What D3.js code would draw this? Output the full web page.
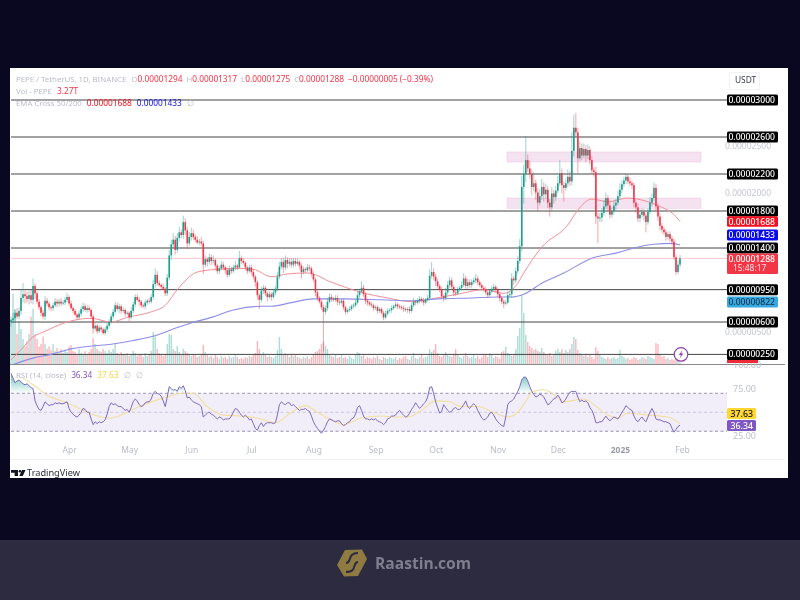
<!DOCTYPE html>
<html>
<head>
<meta charset="utf-8">
<script src="https://cdnjs.cloudflare.com/ajax/libs/d3/7.8.5/d3.min.js"></script>
<style>
  html, body { margin: 0; padding: 0; background: #0a0720; overflow: hidden; }
  svg { display: block; filter: blur(0.55px); font-family: "Noto Sans", sans-serif; }
  .axis path, .axis line { display: none; }
</style>
</head>
<body>
<script>
// prices are in units of 0.000001 USDT, one entry per daily candle
var firstDay = new Date( 2024, 2, 3 );
var closes = [
  6.2,6.4,7.0,6.6,7.2,8.6,9.0,8.8,8.5,8.9,
  8.4,9.9,9.1,8.2,7.6,7.0,6.6,8.3,8.0,7.6,
  7.5,7.8,8.2,8.0,8.2,8.0,8.1,8.4,8.7,8.0,
  7.5,7.2,6.8,6.5,6.9,7.4,7.7,7.3,7.5,7.3,
  6.6,5.3,5.6,5.0,5.4,5.2,4.8,5.2,5.6,6.0,
  6.6,7.1,7.8,7.4,7.7,7.2,7.3,6.9,7.0,6.5,
  7.2,7.9,8.7,8.4,8.2,7.8,7.7,8.1,8.3,8.2,
  8.7,10.1,11.1,10.2,10.0,9.8,9.6,9.1,10.8,13.2,
  14.4,14.9,13.8,15.1,15.7,15.4,16.8,15.9,14.5,15.2,
  15.6,15.2,14.9,14.6,14.7,14.5,12.2,12.8,12.5,13.0,
  12.6,12.7,12.1,11.5,11.8,12.2,11.9,11.6,11.1,11.7,
  11.5,11.9,12.1,11.9,12.9,12.6,12.4,11.9,11.5,11.9,
  11.4,10.9,10.3,8.9,8.4,9.4,9.7,9.1,8.7,9.0,
  8.7,9.2,9.6,10.9,12.0,12.5,11.9,12.7,12.3,12.5,
  12.2,12.6,12.3,12.5,12.1,11.4,11.7,11.6,11.9,11.8,
  11.2,10.6,9.2,8.6,8.2,7.6,7.1,7.5,8.2,8.7,
  8.5,8.4,8.6,8.2,8.1,8.3,7.6,7.1,7.3,7.4,
  7.7,7.8,8.1,8.9,9.3,9.7,9.0,8.3,8.1,7.9,
  7.8,7.5,7.6,7.2,7.4,7.0,6.5,6.9,7.2,7.3,
  7.5,7.7,7.9,7.7,7.6,7.5,7.4,7.3,7.4,7.2,
  7.8,8.2,8.1,8.3,8.5,8.3,8.1,8.4,8.6,11.0,
  11.4,10.9,10.4,9.9,9.5,8.8,8.6,9.2,10.0,10.5,
  9.8,9.2,9.1,9.5,9.7,10.0,10.7,9.9,10.3,10.0,
  10.3,10.5,10.7,10.3,10.0,9.7,9.5,9.2,8.9,9.3,
  9.6,9.8,9.5,9.0,8.6,8.2,8.0,8.1,8.9,9.0,
  10.7,10.5,11.5,12.6,14.2,20.6,22.0,23.5,22.6,22.0,
  20.6,21.0,20.0,18.9,19.6,20.6,19.8,20.3,18.9,18.4,
  19.9,19.5,20.2,21.0,22.1,20.8,20.5,21.0,21.7,21.2,
  24.5,27.0,26.5,23.7,24.8,24.0,24.7,24.0,24.6,23.5,
  22.4,22.2,17.4,17.2,17.3,17.8,18.5,19.4,18.6,17.6,
  18.0,18.6,18.9,19.6,20.3,20.9,21.3,21.7,21.2,21.0,
  20.8,18.9,18.4,17.2,17.6,17.9,17.5,16.8,17.9,18.9,
  19.4,20.5,18.5,17.4,16.4,16.0,15.7,15.2,15.5,15.0,
  14.7,13.0,11.4,12.2,12.88
];
// wick lengths above and below the candle body
var wickUp = [
  .4,.6,.3,.5,.4,.9,1.2,.4,.5,.5,
  .6,.8,.3,.2,.3,.2,.3,.5,.3,.2,
  .2,.3,.4,.3,.3,.4,.3,.3,.4,.2,
  .3,.2,.2,.2,.3,.3,.4,.3,.3,.3,
  .2,.2,.3,.2,.3,.2,.2,.3,.3,.3,
  .3,.3,.4,.3,.3,.2,.3,.2,.2,.2,
  .4,.3,.3,.3,.3,.2,.2,.3,.2,.3,
  .3,.5,.7,.4,.3,.2,.3,.2,.4,.6,
  .5,.7,.4,.5,.6,.3,.7,.4,.4,.5,
  .6,.4,.3,.4,.3,.5,.3,.4,.2,.4,
  .3,.5,.2,.2,.3,.4,.3,.2,.3,.4,
  .3,.3,.5,.2,.8,.3,.3,.2,.2,.3,
  .3,.3,.2,.2,.2,.4,.3,.2,.2,.3,
  .2,.3,.3,.5,.5,.4,.4,.5,.3,.4,
  .4,.3,.3,.4,.2,.3,.3,.2,.4,.3,
  .2,.3,.2,.2,.2,.2,.3,.3,.4,.4,
  .3,.2,.3,.3,.2,.2,.2,.2,.2,.3,
  .2,.2,.3,.4,.3,.7,.3,.2,.2,.2,
  .3,.2,.2,.2,.2,.2,.2,.3,.3,.2,
  .3,.2,.3,.2,.2,.2,.3,.2,.2,.3,
  .3,.4,.2,.3,.3,.2,.3,.2,.3,.7,
  1.1,.4,.3,.3,.2,.3,.2,.5,.4,.4,
  .3,.2,.3,.3,.2,.4,.6,.3,.4,.3,
  .3,.3,.5,.3,.2,.2,.2,.3,.2,.3,
  .3,.3,.2,.2,.2,.2,.2,.3,.4,.3,
  .6,.3,.4,.5,.8,1.2,1.0,2.6,.6,.8,
  .5,1.2,.4,.5,.7,.9,.5,.6,.4,.4,
  .7,.4,.5,.8,1.4,.5,.4,.5,.8,.6,
  2.0,1.4,1.6,.5,.7,.5,.6,.4,.6,.4,
  .4,.3,.6,.4,.5,.5,.7,.6,.3,.4,
  .4,.5,.4,.6,.7,.4,.4,.3,.3,.4,
  .3,.3,.3,.4,.5,.4,.3,.3,.4,.6,
  .5,.6,.4,.3,.4,.3,.3,.3,.3,.3,
  .3,.3,.3,.5,.4
];
var wickDown = [
  .5,.3,.4,.3,.3,.4,.5,.8,.4,.6,
  .4,.5,.6,.3,.3,.4,.3,.4,.3,.3,
  .3,.3,.2,.4,.3,.3,.2,.3,.3,.3,
  .2,.3,.2,.2,.2,.3,.3,.2,.3,.2,
  .3,.6,.3,.3,.2,.3,.2,.2,.3,.3,
  .2,.3,.3,.2,.4,.3,.2,.3,.2,.4,
  .2,.3,.3,.2,.4,.3,.2,.3,.3,.2,
  .2,.3,.4,.3,.2,.3,.2,.3,.3,.3,
  .5,.4,.5,.3,.4,.3,.4,.5,.6,.3,
  .4,.3,.3,.2,.3,.3,1.0,.3,.5,.3,
  .4,.3,.4,.3,.3,.2,.3,.4,.3,.2,
  .3,.2,.3,.3,.2,.3,.2,.3,.3,.2,
  .3,.3,.5,.5,1.0,.3,.4,.3,.5,.2,
  .4,.2,.3,.3,.3,.3,.6,.3,.5,.3,
  .3,.3,.3,.2,.4,.7,.2,.3,.2,.3,
  .3,.3,.4,.3,.2,.3,4.3,.3,.3,.2,
  .3,.2,.2,.4,.3,.2,.3,.3,.2,.2,
  .2,.2,.2,.2,.3,.2,.3,.4,.3,.2,
  .2,.3,.2,.3,.2,.2,.3,.2,.2,.2,
  .3,.2,.2,.3,.2,.2,.3,.2,.3,.3,
  .2,.2,.3,.2,.3,.2,.3,.2,.2,.3,
  .3,.4,.5,.3,.3,.3,.4,.2,.3,.3,
  .3,.4,.3,.2,.2,.3,.2,.3,.3,.3,
  .3,.2,.3,.3,.2,.3,.2,.3,.3,.2,
  .2,.3,.3,.3,.4,.3,.5,.2,.2,.3,
  .4,.5,.3,.3,.3,.6,1.8,.9,.4,.5,
  .9,.4,.8,.9,.3,.4,.8,.5,.6,1.0,
  .3,.7,.4,.3,.3,.9,1.5,.3,.4,.5,
  .4,.6,.5,1.6,.3,.5,.3,.7,.4,.5,
  .4,.5,.8,2.7,.4,.5,.3,.3,.6,.4,
  .3,.4,.5,.3,.3,.4,.3,.4,.3,.3,
  .4,.5,.6,.4,.4,.3,.5,1.1,.3,.3,
  .4,.3,.5,.5,.5,.4,.3,.4,.3,.3,
  .4,.3,.3,.2,.3
];
// traded volume in trillions
var volumes = [
  90,140,110,60,85,70,50,35,45,60,
  95,110,60,50,35,40,55,40,30,35,
  28,40,26,32,24,30,22,28,24,35,
  38,26,24,20,30,22,18,26,20,24,
  30,52,40,30,26,24,30,26,22,28,
  24,30,40,22,18,24,20,18,22,16,
  18,26,22,16,20,18,14,22,16,20,
  26,64,56,30,22,18,16,20,40,60,
  58,30,26,36,24,18,30,26,22,20,
  16,20,18,14,16,20,38,24,18,14,
  16,12,20,14,10,16,12,14,10,16,
  12,14,20,14,10,12,10,14,12,16,
  14,18,22,46,30,20,24,18,14,16,
  14,12,16,28,54,30,20,22,18,14,
  20,16,18,14,12,10,14,12,16,10,
  14,18,24,26,30,40,44,36,30,18,
  16,14,20,12,14,18,12,14,10,16,
  12,10,18,24,22,16,18,10,14,12,
  10,14,12,16,10,8,14,12,10,14,
  12,10,14,8,12,10,14,16,10,8,
  16,22,12,10,14,18,12,14,16,30,
  24,28,40,22,16,14,18,24,20,16,
  14,20,30,18,14,12,16,22,16,12,
  14,18,12,16,10,14,20,18,14,22,
  18,12,16,14,10,24,26,34,22,18,
  16,20,30,56,72,138,102,58,44,36,
  32,28,30,26,24,32,24,20,18,22,
  16,18,26,30,24,30,22,28,24,30,
  40,54,50,28,22,18,16,20,14,18,
  14,10,34,26,18,14,12,10,14,10,
  12,14,10,12,28,16,14,10,12,8,
  10,14,12,8,10,14,12,10,16,14,
  12,10,42,40,20,14,16,10,12,8,
  10,8,10,6,3.27
];
var rsiValues = [
  91,86,81,83,84,82,80,79,80,78,
  76,75,62,57,53,52,56,61,59,57,
  58,58,60,59,60,59,59,60,61,54,
  50,48,46,45,47,50,54,53,50,50,
  43,37,40,38,40,39,40,42,48,56,
  60,58,59,57,56,56,54,52,53,50,
  55,61,64,62,58,56,57,60,61,61,
  64,70,72,70,69,67,62,56,66,77,
  75,73,74,72,77,75,78,73,65,66,
  63,61,60,59,58,56,45,47,49,50,
  48,47,45,43,45,44,42,43,43,43,
  46,50,54,53,50,47,45,47,45,42,
  43,38,33,31,36,39,35,38,39,39,
  39,38,39,47,58,61,59,58,60,60,
  57,58,56,54,52,53,53,54,52,51,
  46,40,36,33,30,28,31,35,40,43,
  42,41,40,41,41,38,36,37,39,40,
  43,44,48,55,57,52,46,43,43,42,
  43,42,43,41,40,39,37,39,43,44,
  46,46,47,50,52,49,47,45,46,49,
  53,56,60,57,54,56,59,61,66,76,
  77,70,61,55,49,51,58,55,52,50,
  51,54,55,53,53,55,58,62,56,54,
  57,59,57,52,48,44,42,43,45,49,
  50,47,43,40,38,36,35,45,58,61,
  62,64,68,72,77,84,87,87,83,77,
  72,69,66,67,69,68,66,62,58,59,
  62,64,65,68,65,60,61,64,68,71,
  72,72,72,66,61,63,61,62,60,55,
  52,47,39,39,40,40,43,46,43,41,
  43,45,44,43,46,50,53,57,55,53,
  52,46,42,40,43,45,42,40,45,50,
  54,50,43,42,42,41,40,40,39,38,
  33,29,32,35,36.34
];
// smoothed lines, read at the candle numbers given in the *Days arrays
var rsiMaDays = [6,11,18,28,36,45,50,58,66,78,85,91,98,106,115,123,132,140,147,153,160,166,175,185,191,198,205,212,219,225,233,241,248,253,258,260,266,270,276,286,291,298,303,308,318,328,334];
var rsiMaValues = [86,79,68,60,52,45,44,50,58,66,70,70,56,47,46,44,39,50,57,50,42,37,44,46,45,45,52,62,61,56,56,50,45,50,65,71,74,70,61,64,58,47,44,49,47,45,37.63];
var ema50Days = [0,5,11,16,28,40,50,58,70,77,83,93,103,114,121,130,138,148,160,175,188,200,210,225,236,246,253,256,265,278,283,290,298,308,318,325,330,334];
var ema50Values = [1.9,3.0,4.4,4.9,6.0,6.4,6.0,6.5,7.1,7.8,9.5,11.4,11.7,11.8,11.7,10.9,11.2,11.3,10.3,9.2,8.6,8.2,8.5,9.1,9.5,9.1,10.2,11.3,14.1,16.5,18.1,19.3,19.0,19.4,19.0,18.4,17.8,16.88];
var ema200Days = [1,11,20,30,40,50,61,73,83,90,100,111,125,130,140,151,166,185,200,213,230,243,250,256,265,276,290,303,311,321,330,334];
var ema200Values = [1.4,2.1,2.5,3.1,3.4,3.6,4.0,4.6,5.4,5.9,6.5,7.3,7.7,7.7,8.1,8.5,8.5,8.4,8.3,8.5,8.6,8.7,8.7,9.0,10.2,11.3,12.9,13.5,14.0,14.4,14.5,14.33];
var levels = [30, 26, 22, 18, 14, 9.5, 6, 2.5];
var priceTicks = [25, 20, 5];
var rsiTicks = [100, 75, 25];
var rsiBands = [70, 50, 30];
var monthTicks = [
  new Date( 2024, 3, 1 ), new Date( 2024, 4, 1 ), new Date( 2024, 5, 1 ), new Date( 2024, 6, 1 ),
  new Date( 2024, 7, 1 ), new Date( 2024, 8, 1 ), new Date( 2024, 9, 1 ), new Date( 2024, 10, 1 ),
  new Date( 2024, 11, 1 ), new Date( 2025, 0, 1 ), new Date( 2025, 1, 1 )
];
var pinkZones = [ [24.38, 23.3], [19.4, 18.3] ];

var colUp = '#1f9c8c', colDown = '#f0364a', colGray = '#b9bcc6';

function dayDate( i ){
    return new Date( firstDay.getFullYear(), firstDay.getMonth(), firstDay.getDate() + i );
}
function priceText( v ){
    return ( v / 1e6 ).toFixed( 8 );
}

var svg = d3.select( 'body' ).append( 'svg' ).attr( 'width', 800 ).attr( 'height', 600 );

var x = d3.scaleTime().domain( [ firstDay, dayDate( 334 ) ] ).range( [ 11, 680 ] );
var y = d3.scaleLinear().domain( [ 2.5, 30 ] ).range( [ 354.4, 100 ] );
var yVol = d3.scaleLinear().domain( [ 0, 138 ] ).range( [ 364, 295 ] );
var yRsi = d3.scaleLinear().domain( [ 25, 100 ] ).range( [ 436, 364.8 ] );

var candles = closes.map( function( c, i ){
    var o = i ? closes[i - 1] : 6.0;
    return {
        i: i, o: o, c: c,
        h: Math.max( o, c ) + wickUp[i],
        l: Math.min( o, c ) - wickDown[i],
        v: volumes[i]
    };
} );
function candleColor( d ){
    return d.c >= d.o ? colUp : colDown;
}

// page frame
svg.append( 'rect' ).attr( 'width', 800 ).attr( 'height', 600 ).attr( 'fill', '#0a0720' );
svg.append( 'rect' ).attr( 'x', 10 ).attr( 'y', 68 ).attr( 'width', 778 ).attr( 'height', 410 ).attr( 'fill', '#ffffff' );
svg.append( 'rect' ).attr( 'x', 0 ).attr( 'y', 540 ).attr( 'width', 800 ).attr( 'height', 60 ).attr( 'fill', '#2d2b40' );

// gray price ticks sit behind the level tags
svg.append( 'g' ).attr( 'class', 'axis' )
    .attr( 'transform', 'translate(722,0)' )
    .call( d3.axisRight( y ).tickValues( priceTicks ).tickFormat( priceText ).tickSize( 0 ) )
    .selectAll( 'text' ).attr( 'fill', '#c5c7cf' ).style( 'font-size', '8.5px' ).style( 'font-family', '"Noto Sans"' );

// pink zones
svg.append( 'g' ).selectAll( 'rect' ).data( pinkZones ).enter().append( 'rect' )
    .attr( 'x', 507 ).attr( 'width', 194 )
    .attr( 'y', function( d ){ return y( d[0] ); } )
    .attr( 'height', function( d ){ return y( d[1] ) - y( d[0] ); } )
    .attr( 'fill', '#eccbe6' ).attr( 'fill-opacity', 0.55 )
    .attr( 'stroke', '#efc3de' ).attr( 'stroke-width', 0.5 );

// volume
svg.append( 'g' ).selectAll( 'rect' ).data( candles ).enter().append( 'rect' )
    .attr( 'x', function( d ){ return x( dayDate( d.i ) ) - 0.7; } )
    .attr( 'width', 1.4 )
    .attr( 'y', function( d ){ return yVol( d.v ); } )
    .attr( 'height', function( d ){ return 364 - yVol( d.v ); } )
    .attr( 'fill', candleColor ).attr( 'fill-opacity', 0.36 );

// level lines
svg.append( 'g' ).selectAll( 'line' ).data( levels ).enter().append( 'line' )
    .attr( 'x1', 11 ).attr( 'x2', 727 )
    .attr( 'y1', function( d ){ return y( d ); } )
    .attr( 'y2', function( d ){ return y( d ); } )
    .attr( 'stroke', '#444444' ).attr( 'stroke-width', 1 );

// last price line
svg.append( 'line' ).attr( 'x1', 11 ).attr( 'x2', 727 )
    .attr( 'y1', y( 12.88 ) ).attr( 'y2', y( 12.88 ) )
    .attr( 'stroke', '#f7bcc3' ).attr( 'stroke-width', 0.8 );

// EMA cross lines
var lineCurve = d3.curveMonotoneX;
function sparseLine( days, values, scale, color, width ){
    var line = d3.line().curve( lineCurve )
        .x( function( d ){ return x( dayDate( d ) ); } )
        .y( function( d, i ){ return scale( values[i] ); } );
    svg.append( 'path' ).attr( 'd', line( days ) ).attr( 'fill', 'none' )
        .attr( 'stroke', color ).attr( 'stroke-width', width );
}
sparseLine( ema50Days, ema50Values, y, '#f2909a', 1 );
sparseLine( ema200Days, ema200Values, y, '#8e8de8', 1.1 );

// candles
var candleG = svg.append( 'g' ).selectAll( 'g' ).data( candles ).enter().append( 'g' );
candleG.append( 'line' )
    .attr( 'x1', function( d ){ return x( dayDate( d.i ) ); } )
    .attr( 'x2', function( d ){ return x( dayDate( d.i ) ); } )
    .attr( 'y1', function( d ){ return y( d.h ); } )
    .attr( 'y2', function( d ){ return y( d.l ); } )
    .attr( 'stroke', candleColor ).attr( 'stroke-width', 0.6 ).attr( 'stroke-opacity', 0.75 );
candleG.append( 'rect' )
    .attr( 'x', function( d ){ return x( dayDate( d.i ) ) - 0.8; } )
    .attr( 'width', 1.6 )
    .attr( 'y', function( d ){ return y( Math.max( d.o, d.c ) ); } )
    .attr( 'height', function( d ){ return Math.max( 0.8, Math.abs( y( d.o ) - y( d.c ) ) ); } )
    .attr( 'fill', candleColor );

// separator between the panes
svg.append( 'line' ).attr( 'x1', 10 ).attr( 'x2', 785 ).attr( 'y1', 364.5 ).attr( 'y2', 364.5 )
    .attr( 'stroke', '#8a8a8a' ).attr( 'stroke-width', 1 );

// RSI pane
svg.append( 'rect' ).attr( 'x', 11 ).attr( 'width', 716 )
    .attr( 'y', yRsi( 70 ) ).attr( 'height', yRsi( 30 ) - yRsi( 70 ) )
    .attr( 'fill', '#7e57c2' ).attr( 'fill-opacity', 0.1 );
svg.append( 'g' ).selectAll( 'line' ).data( rsiBands ).enter().append( 'line' )
    .attr( 'x1', 11 ).attr( 'x2', 727 )
    .attr( 'y1', function( d ){ return yRsi( d ); } )
    .attr( 'y2', function( d ){ return yRsi( d ); } )
    .attr( 'stroke', function( d ){ return d == 50 ? '#c9c2dc' : '#8f86ad'; } )
    .attr( 'stroke-dasharray', '3 2.5' ).attr( 'stroke-width', 0.9 );

var defs = svg.append( 'defs' );
defs.append( 'clipPath' ).attr( 'id', 'over70' ).append( 'rect' )
    .attr( 'x', 0 ).attr( 'y', 360 ).attr( 'width', 800 ).attr( 'height', yRsi( 70 ) - 360 );
var grad = defs.append( 'linearGradient' ).attr( 'id', 'greenFade' )
    .attr( 'gradientUnits', 'userSpaceOnUse' )
    .attr( 'x1', 0 ).attr( 'x2', 0 ).attr( 'y1', yRsi( 88 ) ).attr( 'y2', yRsi( 70 ) );
grad.append( 'stop' ).attr( 'offset', '0%' ).attr( 'stop-color', '#26a69a' ).attr( 'stop-opacity', 0.6 );
grad.append( 'stop' ).attr( 'offset', '100%' ).attr( 'stop-color', '#26a69a' ).attr( 'stop-opacity', 0 );
var rsiArea = d3.area()
    .x( function( d, i ){ return x( dayDate( i ) ); } )
    .y0( yRsi( 70 ) )
    .y1( function( d ){ return yRsi( d ); } );
svg.append( 'path' ).attr( 'd', rsiArea( rsiValues ) )
    .attr( 'fill', 'url(#greenFade)' ).attr( 'clip-path', 'url(#over70)' );

sparseLine( rsiMaDays, rsiMaValues, yRsi, '#f1dfa0', 1.1 );
var rsiLine = d3.line()
    .x( function( d, i ){ return x( dayDate( i ) ); } )
    .y( function( d ){ return yRsi( d ); } );
svg.append( 'path' ).attr( 'd', rsiLine( rsiValues ) ).attr( 'fill', 'none' )
    .attr( 'stroke', '#8069bd' ).attr( 'stroke-width', 1 );

svg.append( 'g' ).attr( 'class', 'axis' )
    .attr( 'transform', 'translate(727,0)' )
    .call( d3.axisRight( yRsi ).tickValues( rsiTicks ).tickFormat( d3.format( '.2f' ) ).tickSize( 0 ) )
    .selectAll( 'text' ).attr( 'fill', '#bfc1c9' ).style( 'font-size', '9px' ).style( 'font-family', '"Noto Sans"' )
    .attr( 'x', 6 );

// time axis
svg.append( 'g' ).attr( 'class', 'axis' )
    .attr( 'transform', 'translate(0,444)' )
    .call( d3.axisBottom( x ).tickValues( monthTicks ).tickSize( 0 ).tickFormat( function( d ){
        return d.getMonth() == 0 ? '2025' : d3.timeFormat( '%b' )( d );
    } ) )
    .selectAll( 'text' )
    .attr( 'fill', function( d ){ return d.getMonth() == 0 ? '#9a9ca6' : '#b9bcc6'; } )
    .style( 'font-size', '8.5px' ).style( 'font-family', '"Noto Sans"' )
    .style( 'font-weight', function( d ){ return d.getMonth() == 0 ? 700 : 400; } );
svg.append( 'line' ).attr( 'x1', 10 ).attr( 'x2', 785 ).attr( 'y1', 459.5 ).attr( 'y2', 459.5 )
    .attr( 'stroke', '#f0f0f2' );

// scale tags
function tag( value, top, h, bg, fg, left, w, size ){
    svg.append( 'rect' ).attr( 'x', left ).attr( 'y', top ).attr( 'width', w ).attr( 'height', h )
        .attr( 'rx', 1.5 ).attr( 'fill', bg );
    svg.append( 'text' ).attr( 'x', left + w - 3 ).attr( 'y', top + h / 2 + 3 )
        .attr( 'text-anchor', 'end' ).attr( 'fill', fg )
        .style( 'font-size', ( size || 8.6 ) + 'px' ).style( 'font-weight', 500 ).text( value );
}
levels.forEach( function( v ){
    tag( priceText( v ), y( v ) - 5.5, 11, '#000000', '#ffffff', 727, 51 );
} );
tag( priceText( 16.88 ), y( 16.88 ) - 5, 10.5, '#f5101f', '#ffffff', 727, 51 );
tag( priceText( 14.33 ), 229.5, 11, '#0a0af0', '#ffffff', 727, 51 );
svg.append( 'rect' ).attr( 'x', 727 ).attr( 'y', 253.5 ).attr( 'width', 51 ).attr( 'height', 20.5 )
    .attr( 'rx', 1.5 ).attr( 'fill', '#f23645' );
svg.append( 'text' ).attr( 'x', 775 ).attr( 'y', 261.5 ).attr( 'text-anchor', 'end' ).attr( 'fill', '#ffffff' )
    .style( 'font-size', '8.6px' ).style( 'font-weight', 500 ).text( priceText( 12.88 ) );
svg.append( 'text' ).attr( 'x', 733 ).attr( 'y', 271 ).attr( 'fill', '#ffe3e6' )
    .style( 'font-size', '8.4px' ).text( '15:48:17' );
tag( priceText( 8.22 ), 296.5, 11, '#36a9e1', '#14314a', 727, 51 );
svg.append( 'rect' ).attr( 'x', 727 ).attr( 'y', 360 ).attr( 'width', 31 ).attr( 'height', 3 ).attr( 'fill', '#ef2a3a' );
tag( '37.63', 408, 11, '#fdd835', '#111111', 727, 29, 8.8 );
tag( '36.34', 420, 11, '#7e57c2', '#ffffff', 727, 29, 8.8 );

svg.append( 'rect' ).attr( 'x', 729.5 ).attr( 'y', 72.5 ).attr( 'width', 30 ).attr( 'height', 17 )
    .attr( 'fill', 'none' ).attr( 'stroke', '#f2f2f4' );
svg.append( 'text' ).attr( 'x', 735 ).attr( 'y', 83 ).attr( 'fill', '#3a3d48' )
    .style( 'font-size', '8.4px' ).text( 'USDT' );

// flash icon
svg.append( 'circle' ).attr( 'cx', 681 ).attr( 'cy', 354.4 ).attr( 'r', 6.8 )
    .attr( 'fill', '#ffffff' ).attr( 'stroke', '#8e44ad' ).attr( 'stroke-width', 1.2 );
svg.append( 'path' ).attr( 'd', 'M682.6 350 L678.8 355 L681 355 L679.6 358.8 L683.4 353.6 L681.2 353.6 Z' )
    .attr( 'fill', '#8e44ad' );

// legend text, labels a touch smaller than the numbers
function legendRow( py, parts ){
    var t = svg.append( 'text' ).attr( 'x', 16 ).attr( 'y', py );
    parts.forEach( function( p ){
        t.append( 'tspan' ).attr( 'fill', p[1] ).attr( 'dx', p[2] || 0 )
            .style( 'font-size', ( p[1] == colGray ? 7.8 : 8.3 ) + 'px' ).text( p[0] );
    } );
}
var colRedTxt = '#f0364a';
legendRow( 82, [
    ['PEPE / TetherUS, 1D, BINANCE', colGray], ['O', colGray, 5], ['0.00001294', colRedTxt],
    ['H', colGray, 4], ['0.00001317', colRedTxt], ['L', colGray, 4], ['0.00001275', colRedTxt],
    ['C', colGray, 4], ['0.00001288', colRedTxt], ['\u22120.00000005 (\u22120.39%)', colRedTxt, 4]
] );
legendRow( 94, [ ['Vol - PEPE', colGray], ['3.27T', colRedTxt, 5] ] );
legendRow( 106, [ ['EMA Cross 50/200', colGray], ['0.00001688', '#f5101f', 5], ['0.00001433', '#1010e0', 5], ['\u2205', colGray, 5] ] );
legendRow( 378, [ ['RSI (14, close)', colGray], ['36.34', '#7e57c2', 5], ['37.63', '#f2d64b', 5], ['\u2205', colGray, 5], ['\u2205', colGray, 5] ] );

// TradingView mark
svg.append( 'path' ).attr( 'd', 'M11 470 H18 V476 H14.6 V472.8 H11 Z M22 470 H25.5 L22.8 476 H19.3 Z' ).attr( 'fill', '#131722' );
svg.append( 'circle' ).attr( 'cx', 20 ).attr( 'cy', 471.3 ).attr( 'r', 1.3 ).attr( 'fill', '#131722' );
svg.append( 'text' ).attr( 'x', 27 ).attr( 'y', 476 ).attr( 'fill', '#2a2e39' )
    .style( 'font-size', '9.2px' ).text( 'TradingView' );

// Raastin footer logo and name
svg.append( 'path' ).attr( 'd', 'M345 550 L362 549.5 L367 559 L358 576 L344 576.5 L337 565 Z' ).attr( 'fill', '#8f7a42' );
svg.append( 'path' ).attr( 'd', 'M358 553 C347 553 352 563 346 563 M346 572 C358 572 352 562 358 562' )
    .attr( 'fill', 'none' ).attr( 'stroke', '#2d2b40' ).attr( 'stroke-width', 2 );
svg.append( 'text' ).attr( 'x', 375 ).attr( 'y', 569 ).attr( 'fill', '#7f7e8e' )
    .style( 'font-size', '15.6px' ).style( 'font-weight', 700 ).style( 'font-family', '"Open Sans"' )
    .text( 'Raastin.com' );
</script>
</body>
</html>
